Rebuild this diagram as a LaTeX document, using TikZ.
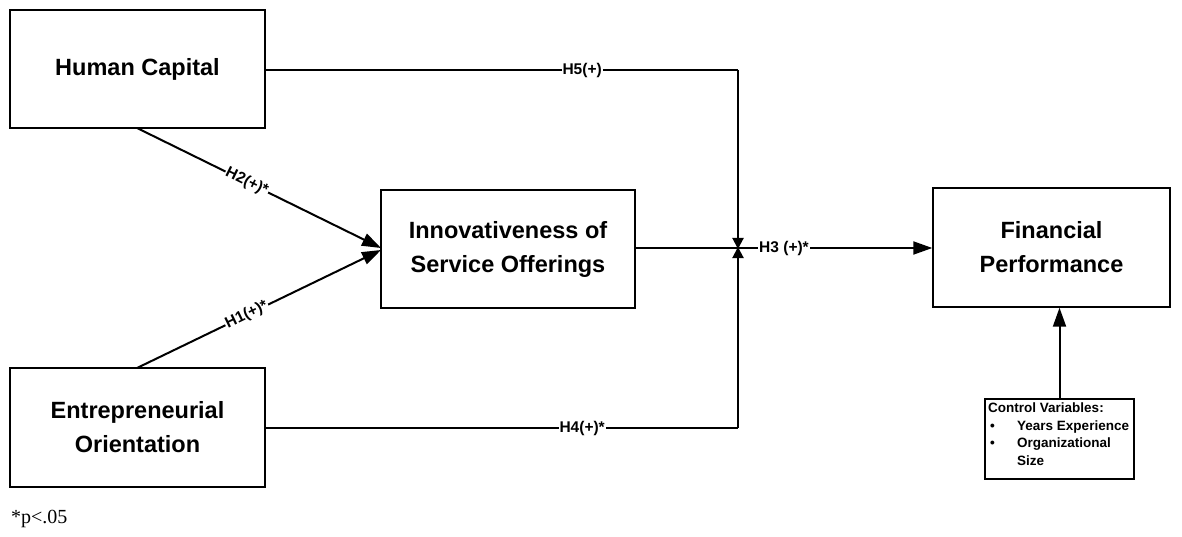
\documentclass[tikz,border=0pt]{standalone}
\usepackage{fontspec}
\setmainfont{Liberation Serif}
\newfontfamily\arialf{Liberation Sans}
\usetikzlibrary{arrows.meta}
\begin{document}
\begin{tikzpicture}[x=1pt,y=-1pt,
  box/.style={draw,line width=1.4pt,fill=white,inner sep=0pt,font=\arialf\bfseries\fontsize{23.5}{34}\selectfont,align=center},
  conn/.style={line width=2pt},
  big/.style={-{Triangle[length=19pt,width=13pt]}},
  small/.style={-{Triangle[length=11pt,width=11pt]}},
  lab/.style={fill=white,inner sep=1pt,font=\arialf\bfseries\fontsize{15.5}{18}\selectfont}]
\useasboundingbox (0,0) rectangle (1182,537);
\node[box,minimum width=255pt,minimum height=118pt] (hc) at (137.5,69) {Human Capital};
\node[box,minimum width=254pt,minimum height=118pt] (io) at (508,249) {Innovativeness of\\Service Offerings};
\node[box,minimum width=255pt,minimum height=119pt] (eo) at (137.5,427.5) {Entrepreneurial\\Orientation};
\node[box,minimum width=237pt,minimum height=119pt] (fp) at (1051.5,247.5) {Financial\\Performance};
\node[draw,line width=1.4pt,minimum width=149pt,minimum height=80pt,inner sep=0pt] (cv) at (1059.5,439) {};
\node[anchor=north west,inner sep=0pt,align=left,font=\arialf\bfseries\fontsize{13.5}{17.5}\selectfont] (cvt) at (988,403)
 {Control Variables:\\
  \makebox[29pt][l]{\hspace{2pt}\textbullet}Years Experience\\
  \makebox[29pt][l]{\hspace{2pt}\textbullet}Organizational\\
  \makebox[29pt][l]{}Size};
\coordinate (j) at (738,248);
\coordinate (jt) at (738,70);
\coordinate (jb) at (738,428);
\draw[conn] (hc.east |- jt) -- node[lab,pos=0.67]{H5(+)} (jt);
\draw[conn,small] (jt) -- ([yshift=-1pt]j);
\draw[conn] (eo.east |- jb) -- node[lab,pos=0.67]{H4(+)*} (jb);
\draw[conn,small] (jb) -- ([yshift=1pt]j);
\draw[conn,big] (io.east |- j) -- (fp.west |- j);
\node[lab] (h3) at (784,248) {H3 (+)*};
\coordinate (hcb) at (137,128);
\coordinate (eot) at (137,368);
\draw[conn,big] (hcb) -- node[lab,sloped,pos=0.45]{H2(+)*} (381,248);
\draw[conn,big] (eot) -- node[lab,sloped,pos=0.45]{H1(+)*} (381,250);
\draw[conn,big] (cv.north) -- (cv.north |- fp.south);
\node[anchor=west,inner sep=0pt,font=\fontsize{20}{22}\selectfont] (note) at (11,519) {*p<.05};
\end{tikzpicture}
\end{document}
